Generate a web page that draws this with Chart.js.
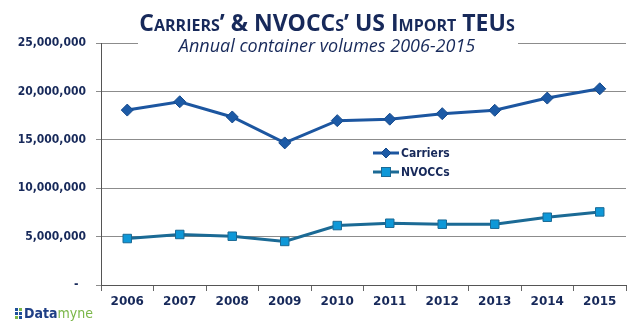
<!DOCTYPE html>
<html>
<head>
<meta charset="utf-8">
<script src="https://cdn.jsdelivr.net/npm/chart.js@4/dist/chart.umd.min.js"></script>
<style>
  html, body { margin: 0; padding: 0; background: #fff; }
  #wrap { width: 640px; height: 322px; position: relative; }
</style>
</head>
<body>
<div id="wrap"><canvas id="teuChart" width="640" height="322"></canvas></div>
<script>
// --- Data ---
const years = ['2006', '2007', '2008', '2009', '2010', '2011', '2012', '2013', '2014', '2015'];
const carriers = [18070000, 18930000, 17360000, 14680000, 16980000, 17130000, 17700000, 18050000, 19310000, 20270000];
const nvoccs = [4800000, 5220000, 5040000, 4500000, 6140000, 6380000, 6280000, 6280000, 7000000, 7550000];
const titleText = 'Carriers\u2019 & NVOCCs\u2019 US Import TEUs';
const subtitleText = 'Annual container volumes 2006-2015';

const navy = '#17295a';

// --- Title, subtitle, legend and logo drawn on top ---
const decorPlugin = {
    id: 'decor',
    afterDraw(chart) {
        const ctx = chart.ctx;
        ctx.save();

        // title
        ctx.fillStyle = navy;
        ctx.textAlign = 'center';
        ctx.textBaseline = 'alphabetic';
        ctx.font = 'small-caps bold 23px "Open Sans"';
        ctx.fillText(titleText, 327, 31);

        // subtitle on a white box that breaks the top gridline
        ctx.fillStyle = '#fff';
        ctx.fillRect(138, 34, 380, 22);
        ctx.fillStyle = navy;
        ctx.font = 'italic 18px "Open Sans"';
        ctx.fillText(subtitleText, 327, 52);

        // legend
        chart.data.datasets.forEach((ds, i) => {
            const y = 153 + i * 19;
            ctx.strokeStyle = ds.borderColor;
            ctx.lineWidth = 3;
            ctx.beginPath();
            ctx.moveTo(373, y);
            ctx.lineTo(399, y);
            ctx.stroke();
            ctx.fillStyle = ds.pointBackgroundColor;
            ctx.strokeStyle = ds.pointBorderColor;
            ctx.lineWidth = 1;
            if (ds.pointStyle === 'rectRot') {
                ctx.beginPath();
                ctx.moveTo(386, y - 5);
                ctx.lineTo(391, y);
                ctx.lineTo(386, y + 5);
                ctx.lineTo(381, y);
                ctx.closePath();
                ctx.fill();
                ctx.stroke();
            } else {
                ctx.fillRect(381.5, y - 4.5, 9, 9);
                ctx.strokeRect(381.5, y - 4.5, 9, 9);
            }
            ctx.fillStyle = navy;
            ctx.textAlign = 'left';
            ctx.textBaseline = 'middle';
            ctx.font = 'bold 12px "DejaVu Sans Condensed"';
            ctx.fillText(ds.label, 401, y + 1);
        });

        // Datamyne logo
        const sq = [['#1f4f9a', 15, 308], ['#7ab648', 19, 308], ['#1f4f9a', 15, 312], ['#1f4f9a', 19, 312], ['#7ab648', 15, 316], ['#1f4f9a', 19, 316]];
        sq.forEach(s => { ctx.fillStyle = s[0]; ctx.fillRect(s[1], s[2], 3, 3); });
        ctx.textAlign = 'left';
        ctx.textBaseline = 'alphabetic';
        ctx.font = 'bold 14px "DejaVu Sans Condensed"';
        ctx.fillStyle = '#1f3f86';
        ctx.fillText('Data', 24, 318);
        const w = ctx.measureText('Data').width;
        ctx.font = '14px "DejaVu Sans Condensed"';
        ctx.fillStyle = '#7ab648';
        ctx.fillText('myne', 24 + w, 318);

        ctx.restore();
    }
};

// --- Chart ---
const ctx = document.getElementById('teuChart').getContext('2d');
new Chart(ctx, {
    type: 'line',
    data: {
        labels: years,
        datasets: [{
            label: 'Carriers',
            data: carriers,
            borderColor: '#1c56a0',
            borderWidth: 3,
            pointStyle: 'rectRot',
            pointRadius: 6,
            pointBackgroundColor: '#1c5aa6',
            pointBorderColor: '#164a8c',
            pointBorderWidth: 1,
            tension: 0
        }, {
            label: 'NVOCCs',
            data: nvoccs,
            borderColor: '#1b6a95',
            borderWidth: 3,
            pointStyle: 'rect',
            pointRadius: 6,
            pointBackgroundColor: '#0e98d8',
            pointBorderColor: '#1b6a95',
            pointBorderWidth: 1,
            tension: 0
        }]
    },
    options: {
        responsive: false,
        animation: false,
        layout: { padding: { top: 43, right: 14, left: 0, bottom: 0 } },
        scales: {
            x: {
                offset: true,
                grid: { offset: true, drawOnChartArea: false, color: '#666', tickLength: 6 },
                border: { color: '#555', width: 1 },
                ticks: { color: navy, font: { family: 'DejaVu Sans', weight: 'bold', size: 12 }, padding: 4 },
                afterFit: s => { s.height = 37; }
            },
            y: {
                min: 0,
                max: 25000000,
                ticks: {
                    stepSize: 5000000,
                    color: navy,
                    padding: 10,
                    font: { family: 'DejaVu Sans Condensed', weight: 'bold', size: 12 },
                    callback: v => v === 0 ? '-  ' : v.toLocaleString('en-US')
                },
                grid: { color: '#8c8c8c', tickLength: 5 },
                border: { color: '#555', width: 1 },
                afterFit: s => { s.width = 101; }
            }
        },
        plugins: { legend: { display: false }, tooltip: { enabled: false } }
    },
    plugins: [decorPlugin]
});
</script>
</body>
</html>
